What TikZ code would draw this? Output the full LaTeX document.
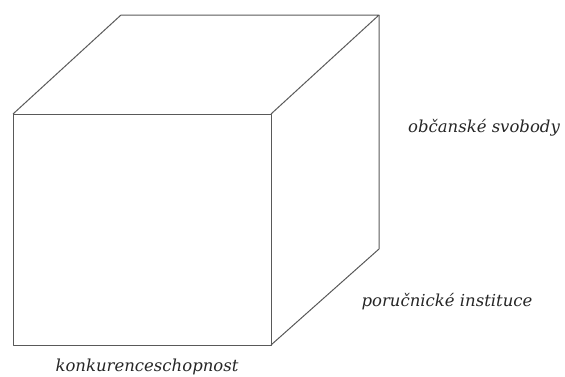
\documentclass[tikz,border=0pt]{standalone}
\usepackage{fontspec}
\setmainfont{DejaVu Serif}

\tikzset{
  hrana/.style={line width=1pt,draw=black!65,line join=round},
  popis/.style={font=\fontsize{16.5}{18}\selectfont\itshape,text=black!85}
}

\begin{document}
\begin{tikzpicture}[x=1pt,y=-1pt]

\useasboundingbox (0,0) rectangle (565,376);

% predni stena
\coordinate (A) at (13,114);
\coordinate (B) at (271,114);
\coordinate (C) at (271,345);
\coordinate (D) at (13,345);

% zadni hrany
\coordinate (E) at (121,15);
\coordinate (F) at (379,15);
\coordinate (G) at (379,249);

\draw[hrana] (A) -- (B) -- (C) -- (D) -- cycle;
\draw[hrana] (A) -- (E) -- (F) -- (B);
\draw[hrana] (F) -- (G) -- (C);

\node[popis] (svobody) at (484,128)
{občanské svobody};

\node[popis] (instituce) at (447,302)
{poručnické instituce};

\node[popis] (konkurence) at (147,367)
{konkurenceschopnost};

\end{tikzpicture}
\end{document}
